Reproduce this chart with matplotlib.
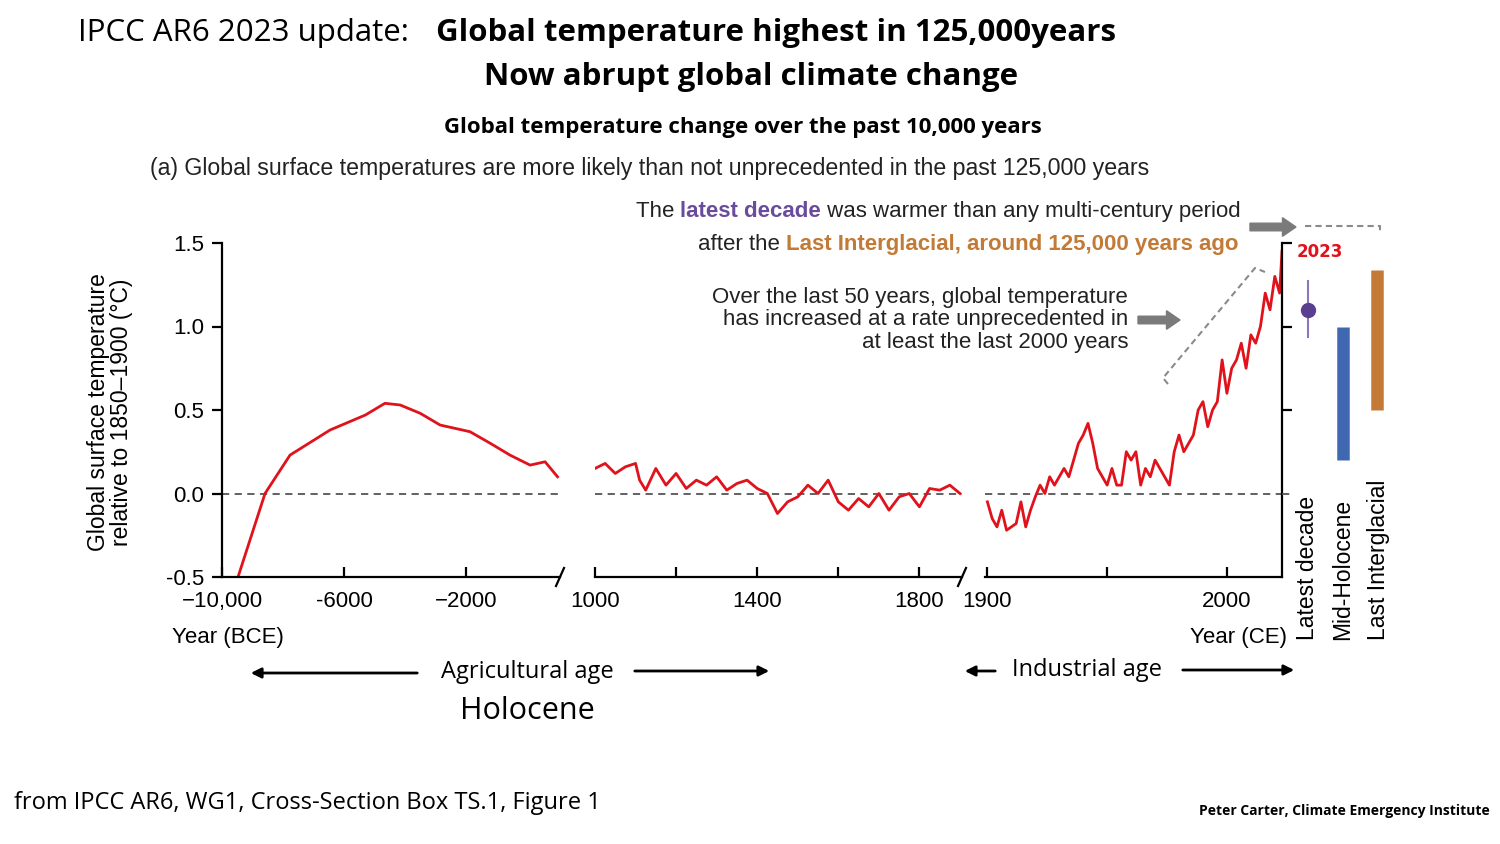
import matplotlib
matplotlib.use("Agg")
import matplotlib.pyplot as plt
import numpy as np

W, H = 1500, 844
NARROW = ["Liberation Sans Narrow", "Liberation Sans", "DejaVu Sans"]
HEAD = ["Open Sans", "DejaVu Sans"]

# ---- data ----
bce_years = [-10000, -9475, -8590, -7770, -6460, -5300, -4660, -4160, -3500, -2850, -1870, -1200, -560, 100, 590, 1000]
bce_temp = [-0.62, -0.5, 0.0, 0.23, 0.38, 0.47, 0.54, 0.53, 0.48, 0.41, 0.37, 0.30, 0.23, 0.17, 0.19, 0.10]

mid_years = [1000, 1025, 1050, 1075, 1100, 1110, 1125, 1150, 1175, 1200, 1225, 1250, 1275, 1300, 1325,
             1350, 1375, 1400, 1425, 1450, 1475, 1500, 1525, 1550, 1575, 1600, 1625, 1650, 1675, 1700,
             1725, 1750, 1775, 1800, 1825, 1850, 1875, 1900]
mid_temp = [0.15, 0.18, 0.12, 0.16, 0.18, 0.08, 0.02, 0.15, 0.05, 0.12, 0.03, 0.08, 0.05, 0.10, 0.02,
            0.06, 0.08, 0.03, 0.0, -0.12, -0.05, -0.02, 0.05, 0.0, 0.08, -0.05, -0.10, -0.03, -0.08, 0.0,
            -0.10, -0.02, 0.0, -0.08, 0.03, 0.02, 0.05, 0.0]

ce_years = list(range(1900, 2023, 2)) + [2023]
ce_temp = [-0.05, -0.15, -0.2, -0.1, -0.22, -0.2, -0.18, -0.05, -0.2, -0.1, -0.02, 0.05, 0.0, 0.1, 0.05,
           0.1, 0.15, 0.1, 0.2, 0.3, 0.35, 0.42, 0.3, 0.15, 0.1, 0.05, 0.15, 0.05, 0.05, 0.25, 0.2,
           0.25, 0.05, 0.15, 0.1, 0.2, 0.15, 0.1, 0.05, 0.25, 0.35, 0.25, 0.3, 0.35, 0.5, 0.55, 0.4,
           0.5, 0.55, 0.8, 0.6, 0.75, 0.8, 0.9, 0.75, 0.95, 0.9, 1.0, 1.2, 1.1, 1.3, 1.2, 1.45]

latest_decade = (1.1, 0.94, 1.27)
mid_holocene = (0.2, 1.0)
last_interglacial = (0.5, 1.34)

YMIN, YMAX = -0.5, 1.5


def fx(x):
    return x / W


def fy(y):
    return 1 - y / H


def add_panel(x0, x1):
    return fig.add_axes([fx(x0), fy(577), fx(x1 - x0), fy(243) - fy(577)])


fig = plt.figure(figsize=(15, 8.44), dpi=100)

red = "#e0121b"
TS = 16  # tick label size

ax1 = add_panel(222, 560)
ax1.plot(bce_years, bce_temp, color=red, lw=2)
ax1.set_xlim(-10000, 1080)
ax1.set_xticks([-10000, -6000, -2000])
ax1.set_xticklabels(["\u221210,000", "-6000", "\u22122000"])
ax1.set_yticks([-0.5, 0, 0.5, 1.0, 1.5])
ax1.set_yticklabels(["-0.5", "0.0", "0.5", "1.0", "1.5"])

ax2 = add_panel(595, 962)
ax2.plot(mid_years, mid_temp, color=red, lw=2)
ax2.set_xlim(1000, 1905)
ax2.set_xticks([1000, 1200, 1400, 1600, 1800])
ax2.set_xticklabels(["1000", "", "1400", "", "1800"])

ax3 = add_panel(985, 1282)
ax3.plot(ce_years, ce_temp, color=red, lw=2)
ax3.set_xlim(1899, 2023)
ax3.set_xticks([1900, 1950, 2000])
ax3.set_xticklabels(["1900", "", "2000"])

for ax in (ax1, ax2, ax3):
    ax.set_ylim(YMIN, YMAX)
    ax.set_facecolor("none")
    ax.axhline(0, color="#555555", lw=1.3, ls=(0, (4, 3)), zorder=0)
    for s in ("top", "right", "left"):
        ax.spines[s].set_visible(False)
    ax.spines["bottom"].set_linewidth(1.6)
    ax.tick_params(axis="x", direction="in", length=7, width=1.6, pad=10, labelsize=TS)
    for lab in ax.get_xticklabels():
        lab.set_family(NARROW)
    if ax is not ax1:
        ax.set_yticks([])

ax1.spines["left"].set_visible(True)
ax1.spines["left"].set_linewidth(1.6)
ax1.tick_params(axis="y", direction="out", length=7, width=1.6, labelsize=TS, pad=6)
for lab in ax1.get_yticklabels():
    lab.set_family(NARROW)
ax3.spines["right"].set_visible(True)
ax3.spines["right"].set_linewidth(1.6)
ax3.yaxis.set_ticks_position("right")
ax3.set_yticks([0.5, 1.0, 1.5])
ax3.set_yticklabels([])
ax3.tick_params(axis="y", direction="out", length=7, width=1.6)

# break marks
for (x, y) in [(560, 577), (962, 577)]:
    fig.add_artist(plt.Line2D([fx(x - 4), fx(x + 4)], [fy(y + 9), fy(y - 9)], color="black", lw=1.6))

# right side bars
axr = fig.add_axes([fx(1282), fy(577), fx(113), fy(243) - fy(577)])
axr.set_xlim(0, 113)
axr.set_ylim(YMIN, YMAX)
axr.axis("off")
axr.set_facecolor("none")
axr.plot([0, 12], [0, 0], color="#555555", lw=1.3, ls=(0, (4, 3)))
axr.plot([26, 26], latest_decade[1:], color="#8a78b8", lw=1.5)
axr.plot([26], [latest_decade[0]], "o", color="#5b3f8f", ms=10)
axr.plot([61, 61], mid_holocene, color="#4068b0", lw=9, solid_capstyle="butt")
axr.plot([95, 95], last_interglacial, color="#c27a36", lw=9, solid_capstyle="butt")

# titles
fig.text(fx(78), fy(33), "IPCC AR6 2023 update:", family=HEAD, fontsize=22.5, va="center")
fig.text(fx(436), fy(33), "Global temperature highest in 125,000years", family=HEAD, fontsize=22.5,
         fontweight="bold", va="center")
fig.text(fx(751), fy(77), "Now abrupt global climate change", family=HEAD, fontsize=22.5,
         fontweight="bold", va="center", ha="center")
fig.text(fx(743), fy(127), "Global temperature change over the past 10,000 years", family=HEAD,
         fontsize=16, fontweight="bold", va="center", ha="center")
fig.text(fx(650), fy(168), "(a) Global surface temperatures are more likely than not unprecedented in the past 125,000 years",
         family=NARROW, fontsize=16.7, va="center", ha="center", color="#222222")


def chain(x, y, pieces, size=16):
    t = fig.text(fx(x), fy(y), pieces[0][0], family=NARROW, fontsize=size, va="baseline",
                 color=pieces[0][1], fontweight=pieces[0][2])
    for s, c, w in pieces[1:]:
        t = fig.add_artist(matplotlib.text.Annotation(
            s, xy=(1, 0), xycoords=t, va="bottom", ha="left", family=NARROW,
            fontsize=size, color=c, fontweight=w))
    return t


chain(636, 217, [("The ", "#222222", "normal"), ("latest decade", "#6a4c9c", "bold"),
                 (" was warmer than any multi-century period", "#222222", "normal")])
chain(698, 250, [("after the ", "#222222", "normal"),
                 ("Last Interglacial, around 125,000 years ago", "#c27a36", "bold")])
fig.text(fx(1128), fy(320), "Over the last 50 years, global temperature\nhas increased at a rate unprecedented in\nat least the last 2000 years",
         family=NARROW, fontsize=16, ha="right", va="center", linespacing=1.12, color="#222222")

# grey arrows
for (x0, x1, y) in [(1250, 1296, 227), (1138, 1180, 320)]:
    fig.add_artist(matplotlib.patches.FancyArrow(fx(x0), fy(y), fx(x1 - x0), 0, width=0.009,
                                                 head_width=0.022, head_length=0.009,
                                                 length_includes_head=True, color="#7a7a7a",
                                                 transform=fig.transFigure))
dash = dict(color="#8a8a8a", lw=1.5, ls=(0, (3, 2)))
fig.add_artist(plt.Line2D([fx(1305), fx(1380), fx(1380)], [fy(226), fy(226), fy(232)], **dash))
fig.add_artist(plt.Line2D([fx(1168), fx(1163), fx(1255), fx(1265)],
                          [fy(384), fy(378), fy(268), fy(272)], **dash))
fig.text(fx(1297), fy(252), "2023", color="#e0121b", fontweight="bold", fontsize=12, va="center")

# axis labels
fig.text(fx(110), fy(412), "Global surface temperature\nrelative to 1850\u20131900 (\u00b0C)", family=NARROW,
         fontsize=16.5, rotation=90, ha="center", va="center", linespacing=1.0)
fig.text(fx(228), fy(638), "Year (BCE)", family=NARROW, fontsize=16, ha="center", va="center")
fig.text(fx(1238), fy(638), "Year (CE)", family=NARROW, fontsize=16, ha="center", va="center")
for x, s in [(1307, "Latest decade"), (1343, "Mid-Holocene"), (1378, "Last Interglacial")]:
    fig.text(fx(x), fy(640), s, family=NARROW, fontsize=16.5, rotation=90, ha="center", va="bottom")

# ages
fig.text(fx(527), fy(672), "Agricultural age", family=HEAD, fontsize=17, ha="center", va="center")
fig.text(fx(1087), fy(670), "Industrial age", family=HEAD, fontsize=17, ha="center", va="center")
fig.text(fx(527), fy(711), "Holocene", family=HEAD, fontsize=22, ha="center", va="center")
for (x0, x1, y) in [(420, 248, 673), (632, 772, 671), (998, 962, 671), (1180, 1297, 670)]:
    fig.add_artist(matplotlib.patches.FancyArrowPatch((fx(x0), fy(y)), (fx(x1), fy(y)),
                                                      arrowstyle="-|>,head_length=6,head_width=3",
                                                      lw=2, color="black", transform=fig.transFigure))

fig.text(fx(14), fy(803), "from IPCC AR6, WG1, Cross-Section Box TS.1, Figure 1", family=HEAD,
         fontsize=17, va="center")
fig.text(fx(1490), fy(811), "Peter Carter, Climate Emergency Institute", family=HEAD, fontsize=10,
         fontweight="bold", ha="right", va="center")

fig.savefig("out.png", dpi=100)
